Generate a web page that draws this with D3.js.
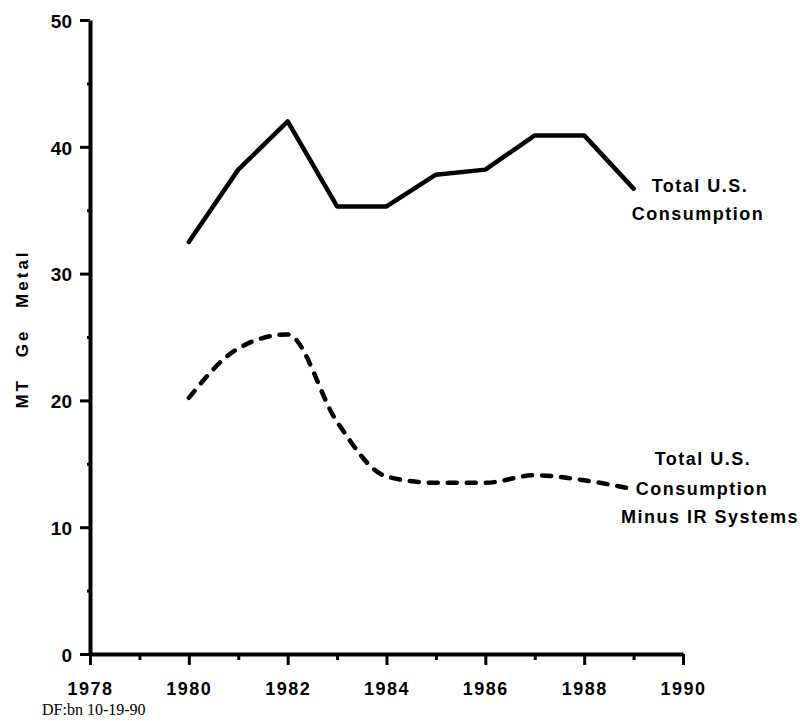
<!DOCTYPE html>
<html>
<head>
<meta charset="utf-8">
<script src="https://cdn.jsdelivr.net/npm/d3@7/dist/d3.min.js"></script>
<style>
  html, body { margin: 0; padding: 0; background: #fff; }
  svg { display: block; }
  .lbl { font-family: "Liberation Sans", Arial, Helvetica, sans-serif; font-weight: bold; fill: #000; }
</style>
</head>
<body>
<svg id="chart" width="805" height="721"></svg>
<script>
// ---- data ----
const years = [1980, 1981, 1982, 1983, 1984, 1985, 1986, 1987, 1988, 1989];
const totalConsumption = [32.5, 38.2, 42.0, 35.3, 35.3, 37.8, 38.2, 40.9, 40.9, 36.7];
const minusIRSystems = [20.2, 24.1, 25.2, 18.3, 14.0, 13.5, 13.5, 14.1, 13.7, 13.0];
const xTickLabels = [1978, 1980, 1982, 1984, 1986, 1988, 1990];
const xMinorTicks = [1979, 1981, 1983, 1985, 1987, 1989];
const yTickLabels = [0, 10, 20, 30, 40, 50];
const yMinorTicks = [5, 15, 25, 35, 45];
const yAxisTitle = "MT Ge Metal";
const label1 = ["Total U.S.", "Consumption"];
const label2 = ["Total U.S.", "Consumption", "Minus IR Systems"];
const footnote = "DF:bn 10-19-90";

// ---- layout ----
const svg = d3.select("#chart");
const x = d3.scaleLinear().domain([1978, 1990]).range([90, 683]);
const y = d3.scaleLinear().domain([0, 50]).range([654, 20]);

// x axis
const xAxis = svg.append("g").attr("transform", `translate(0,${y(0)})`)
  .call(d3.axisBottom(x).tickValues(xTickLabels).tickFormat(d3.format("d"))
        .tickSize(11).tickSizeOuter(0).tickPadding(17));
xAxis.select(".domain").attr("stroke-width", 4);
xAxis.selectAll(".tick line").attr("stroke-width", 3);
xAxis.selectAll(".tick text").attr("class", "lbl").style("font-size", "18px")
  .style("letter-spacing", "1.5px").attr("fill", "#000");

const xMinor = svg.append("g").attr("transform", `translate(0,${y(0)})`)
  .call(d3.axisBottom(x).tickValues(xMinorTicks).tickFormat("").tickSize(6).tickSizeOuter(0));
xMinor.select(".domain").remove();
xMinor.selectAll(".tick line").attr("stroke-width", 3);

// y axis
const yAxis = svg.append("g").attr("transform", `translate(${x(1978)},0)`)
  .call(d3.axisLeft(y).tickValues(yTickLabels).tickSize(10).tickSizeOuter(0).tickPadding(8));
yAxis.select(".domain").attr("stroke-width", 4);
yAxis.selectAll(".tick line").attr("stroke-width", 3);
yAxis.selectAll(".tick text").attr("class", "lbl").style("font-size", "19px")
  .attr("dy", "0.38em").attr("fill", "#000");

const yMinor = svg.append("g").attr("transform", `translate(${x(1978)},0)`)
  .call(d3.axisLeft(y).tickValues(yMinorTicks).tickFormat("").tickSize(3).tickSizeOuter(0));
yMinor.select(".domain").remove();
yMinor.selectAll(".tick line").attr("stroke-width", 3);

// y axis title
svg.append("text").attr("class", "lbl")
  .attr("transform", `translate(28,${329}) rotate(-90)`)
  .attr("text-anchor", "middle")
  .style("font-size", "17px").style("letter-spacing", "3px").style("word-spacing", "13px")
  .text(yAxisTitle);

// lines
const solid = d3.line().x((d, i) => x(years[i])).y(d => y(d));
svg.append("path").datum(totalConsumption)
  .attr("d", solid).attr("fill", "none").attr("stroke", "#000")
  .attr("stroke-width", 4.5).attr("stroke-linejoin", "round").attr("stroke-linecap", "round");

const dashed = d3.line().x((d, i) => x(years[i])).y(d => y(d)).curve(d3.curveMonotoneX);
svg.append("path").datum(minusIRSystems)
  .attr("d", dashed).attr("fill", "none").attr("stroke", "#000")
  .attr("stroke-width", 4.5).attr("stroke-linecap", "round")
  .attr("stroke-dasharray", "9,10");

// labels
const l1x = [700, 698];
const l1y = [192, 220];
label1.forEach((t, i) => {
  svg.append("text").attr("class", "lbl").attr("x", l1x[i]).attr("y", l1y[i])
    .attr("text-anchor", "middle").style("font-size", "18px").style("letter-spacing", "1.5px").text(t);
});
const l2x = [703, 702, 710];
const l2y = [465, 495, 523];
label2.forEach((t, i) => {
  svg.append("text").attr("class", "lbl").attr("x", l2x[i]).attr("y", l2y[i])
    .attr("text-anchor", "middle").style("font-size", "18px").style("letter-spacing", "1.5px").text(t);
});

// footnote
svg.append("text").attr("x", 42).attr("y", 715)
  .style("font-family", "'Liberation Serif', 'Times New Roman', serif")
  .style("font-size", "16px").attr("fill", "#000").text(footnote);
</script>
</body>
</html>
